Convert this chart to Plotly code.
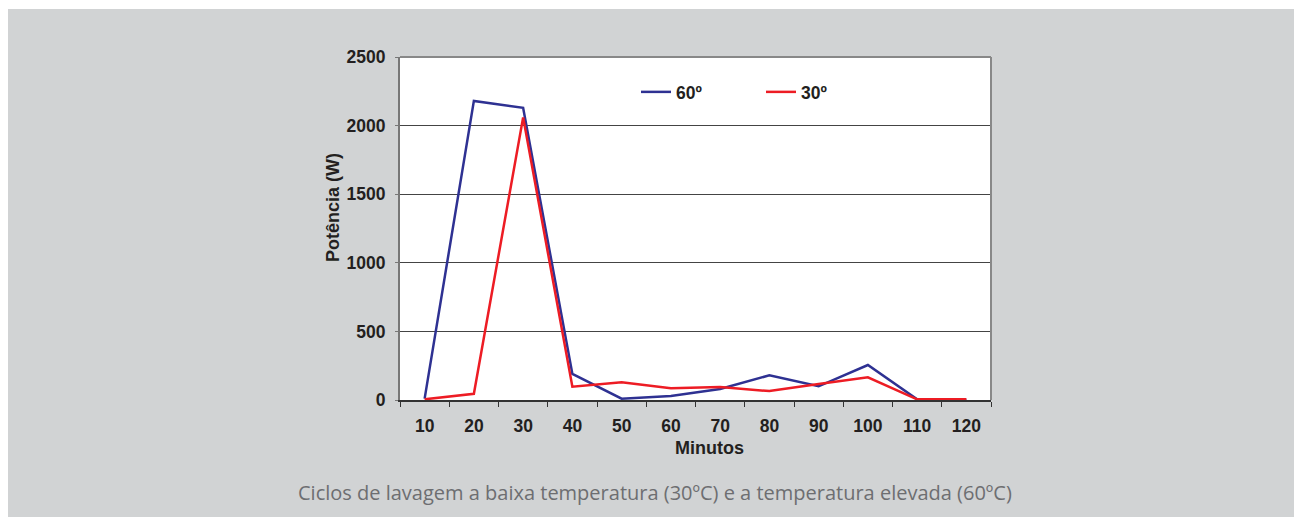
import plotly.graph_objects as go

minutos = ["10", "20", "30", "40", "50", "60", "70", "80", "90", "100", "110", "120"]
p60 = [10, 2180, 2130, 190, 10, 30, 80, 180, 100, 255, 5, 0]
p30 = [5, 45, 2060, 97, 130, 85, 95, 65, 117, 165, 5, 5]
series_names = ["60º", "30º"]
y_ticks = [0, 500, 1000, 1500, 2000, 2500]
caption = "Ciclos de lavagem a baixa temperatura (30ºC) e a temperatura elevada (60ºC)"

BG = "#d1d3d4"
DARK = "#231f20"
FONT = "Liberation Sans, Arial, sans-serif"

# page is rendered with an 8px body offset; work in figure coordinates
OFF = 8
W, H = 1302 - OFF, 517 - OFF
px0, px1, py0, py1 = 400 - OFF, 991 - OFF, 57 - OFF, 400 - OFF
L, R, T, B = px0, W - px1, py0, H - py1
pw, ph = px1 - px0, py1 - py0


def fx(page_x):
    return (page_x - OFF - px0) / pw


def fy(page_y):
    return (py1 - (page_y - OFF)) / ph


fig = go.Figure()
fig.add_trace(go.Scatter(x=minutos, y=p60, mode="lines", name=series_names[0],
                         line=dict(color="#2e3192", width=2.5)))
fig.add_trace(go.Scatter(x=minutos, y=p30, mode="lines", name=series_names[1],
                         line=dict(color="#ed1c24", width=2.5)))

fig.update_layout(
    width=W, height=H,
    margin=dict(l=L, r=R, t=T, b=B),
    paper_bgcolor=BG, plot_bgcolor="white",
    font=dict(family=FONT, color=DARK, size=17),
    showlegend=True,
    legend=dict(orientation="h", x=fx(636), y=fy(92), xanchor="left", yanchor="middle",
                bgcolor="rgba(0,0,0,0)", font=dict(size=17.5, weight="bold", color=DARK),
                itemwidth=30, entrywidth=80, entrywidthmode="pixels"),
    xaxis=dict(type="category", range=[-0.5, 11.5], tickson="boundaries",
               ticks="outside", ticklen=5, tickcolor="#333", tickwidth=1,
               showline=True, linecolor="#333", linewidth=1.5, mirror=False,
               showgrid=False, ticklabelstandoff=9,
               tickfont=dict(size=17.5, weight="bold", color=DARK)),
    yaxis=dict(range=[0, 2500], tickvals=y_ticks, ticks="outside", ticklen=3,
               tickcolor="#777", showline=True, linecolor="#777", linewidth=2,
               showgrid=True, gridcolor="#444", gridwidth=1, zeroline=False,
               ticklabelstandoff=6,
               tickfont=dict(size=17.5, weight="bold", color=DARK)),
    shapes=[
        dict(type="line", xref="paper", yref="paper", x0=1, x1=1, y0=0, y1=1,
             line=dict(color="#888", width=2)),
        dict(type="line", xref="paper", yref="paper", x0=0, x1=1, y0=1, y1=1,
             line=dict(color="#888", width=2)),
        dict(type="rect", xref="paper", yref="paper", layer="below",
             x0=-L / pw - 0.01, x1=(W - L) / pw + 0.01, y0=fy(9), y1=1 + T / ph + 0.01,
             line=dict(width=0), fillcolor="white"),
    ],
    annotations=[
        dict(text="<b>Potência (W)</b>", xref="paper", yref="paper",
             x=fx(333), y=fy(208), textangle=-90,
             showarrow=False, xanchor="center", yanchor="middle",
             font=dict(size=18, color=DARK)),
        dict(text="<b>Minutos</b>", xref="paper", yref="paper",
             x=fx(709), y=fy(448), showarrow=False,
             xanchor="center", yanchor="middle",
             font=dict(size=18, color=DARK)),
        dict(text=caption, xref="paper", yref="paper",
             x=fx(655), y=fy(492), showarrow=False,
             xanchor="center", yanchor="middle",
             font=dict(family="Open Sans", size=20, color="#6d6e71")),
    ],
)

fig.write_html("out.html")
